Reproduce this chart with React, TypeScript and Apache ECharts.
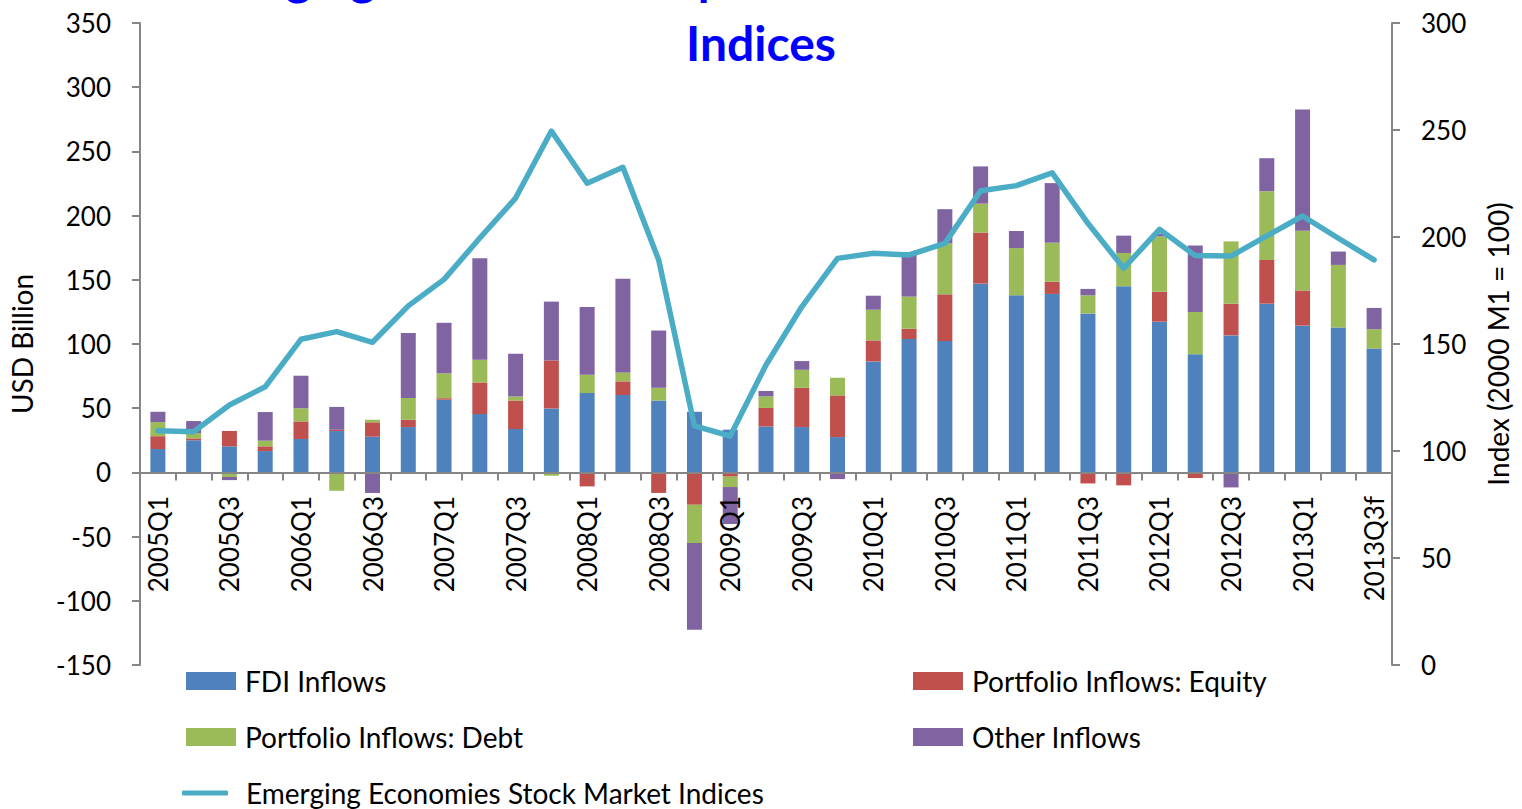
import React, { useEffect, useRef } from "react";
import * as echarts from "echarts";

const categories = [
  "2005Q1", "2005Q2", "2005Q3", "2005Q4",
  "2006Q1", "2006Q2", "2006Q3", "2006Q4",
  "2007Q1", "2007Q2", "2007Q3", "2007Q4",
  "2008Q1", "2008Q2", "2008Q3", "2008Q4",
  "2009Q1", "2009Q2", "2009Q3", "2009Q4",
  "2010Q1", "2010Q2", "2010Q3", "2010Q4",
  "2011Q1", "2011Q2", "2011Q3", "2011Q4",
  "2012Q1", "2012Q2", "2012Q3", "2012Q4",
  "2013Q1", "2013Q2", "2013Q3f",
];

const fdiInflows = [
  18.2, 25, 20.3, 16.6, 26, 32.2, 27.8, 35.3, 56.6, 45.5, 33.8, 49.8,
  61.8, 60.3, 56, 47.2, 33.3, 35.8, 35.3, 27.5, 86.4, 103.9, 102.3, 147,
  137.9, 139, 123.8, 145, 117.4, 92, 106.7, 131.4, 114.3, 112.8, 96.4,
];

const equityInflows = [
  10, 1.5, 12, 3.7, 13.7, 1, 11.2, 5.7, 1.2, 24.5, 22.2, 37.4,
  -10.9, 10.6, -16, -25.2, -3.3, 14.4, 30.6, 32.5, 16.4, 8, 36.4, 39.8,
  0, 9.5, -8.6, -10.1, 23.3, -4.4, 24.7, 34, 27.4, -1, 0,
];

const debtInflows = [
  11, 4, -3.5, 4.4, 10.3, -14.3, 2, 17, 19.4, 17.8, 3.2, -2.6,
  14.2, 7, 9.9, -29.8, -8.1, 9, 14, 13.7, 23.9, 25, 39.6, 22.5,
  36.8, 30.4, 14.1, 25.9, 43.1, 32.9, 48.5, 53.6, 46.5, 48.8, 15.1,
];

const otherInflows = [
  8, 9.5, -2.5, 22.3, 25.3, 17.8, -16, 50.5, 39.3, 78.9, 33.3, 45.8,
  52.8, 73, 44.6, -67.5, -28.8, 4.2, 6.8, -5.2, 10.9, 34.4, 26.7, 29,
  13.3, 46.4, 5, 13.5, 2.1, 51.8, -11.7, 25.7, 94.5, 10.4, 16.6,
];

const stockIndex = [
  109.5, 109, 121.5, 130, 152.2, 155.8, 150.8, 167.8, 180.2, 199.5, 218.2, 249.5,
  225.1, 232.6, 189.3, 111.7, 107, 140.2, 167.4, 190, 192.4, 191.6, 197, 221.6,
  224, 230, 206.4, 185.4, 203.6, 191.3, 191.1, 200.5, 209.8, 199.4, 189.3,
];

const FONT = "Lato, 'Open Sans', sans-serif";
const AXIS_COLOR = "#868686";

export default function App() {
  const ref = useRef<HTMLDivElement>(null);

  useEffect(() => {
    if (!ref.current) return;
    const chart = echarts.init(ref.current, undefined, { renderer: "svg" });

    const barSeries = (name: string, data: number[], color: string) => ({
      name,
      type: "bar",
      stack: "flows",
      data,
      xAxisIndex: 0,
      yAxisIndex: 0,
      barWidth: 15,
      itemStyle: { color },
    });

    const legendItem = (name: string, left: number, top: number, isLine = false) => ({
      show: true,
      data: [{ name, icon: isLine ? "roundRect" : "rect" }],
      left,
      top,
      padding: 0,
      itemWidth: isLine ? 46 : 50,
      itemHeight: isLine ? 5 : 18,
      selectedMode: false,
      textStyle: {
        fontFamily: FONT,
        fontSize: 28,
        color: "#000",
        lineHeight: 30,
        padding: [0, 0, 0, isLine ? 13 : 4],
      },
    });

    chart.setOption({
      animation: false,
      textStyle: { fontFamily: FONT },
      title: {
        text: "Emerging Economies: Capital Inflows and Stock Market\nIndices",
        left: "center",
        top: -62,
        textStyle: {
          fontFamily: FONT,
          fontSize: 48,
          fontWeight: "bold",
          color: "#0000FF",
          lineHeight: 66,
        },
      },
      legend: [
        legendItem("FDI Inflows", 186, 666),
        legendItem("Portfolio Inflows: Equity", 913, 666),
        legendItem("Portfolio Inflows: Debt", 186, 722),
        legendItem("Other Inflows", 913, 722),
        legendItem("Emerging Economies Stock Market Indices", 182, 778, true),
      ],
      grid: { left: 137, right: 130, top: 23, height: 642, containLabel: false },
      xAxis: [
        {
          type: "category",
          data: categories,
          z: 10,
          axisLine: { onZero: true, onZeroAxisIndex: 0, lineStyle: { color: AXIS_COLOR, width: 2 } },
          axisTick: { show: true, interval: 0, length: 8, lineStyle: { color: AXIS_COLOR, width: 2 } },
          axisLabel: { show: false },
          splitLine: { show: false },
        },
        {
          type: "category",
          data: categories,
          position: "bottom",
          offset: -193,
          z: 10,
          axisLine: { show: false, onZero: false },
          axisTick: { show: false },
          axisLabel: {
            interval: 1,
            rotate: 90,
            margin: 24,
            fontSize: 26,
            color: "#000",
            fontFamily: FONT,
          },
          splitLine: { show: false },
        },
      ],
      yAxis: [
        {
          type: "value",
          min: -150,
          max: 350,
          interval: 50,
          name: "USD Billion",
          nameLocation: "middle",
          nameRotate: 90,
          nameGap: 104,
          nameTextStyle: { fontSize: 28, color: "#000", fontFamily: FONT },
          axisLine: { show: true, lineStyle: { color: AXIS_COLOR, width: 2 } },
          axisTick: { show: true, length: 8, lineStyle: { color: AXIS_COLOR, width: 2 } },
          axisLabel: { margin: 29, fontSize: 26, color: "#000", fontFamily: FONT },
          splitLine: { show: false },
        },
        {
          type: "value",
          min: 0,
          max: 300,
          interval: 50,
          position: "right",
          name: "Index (2000 M1 = 100)",
          nameLocation: "middle",
          nameRotate: 90,
          nameGap: 92,
          nameTextStyle: { fontSize: 28, color: "#000", fontFamily: FONT },
          axisLine: { show: true, lineStyle: { color: AXIS_COLOR, width: 2 } },
          axisTick: { show: true, length: 8, lineStyle: { color: AXIS_COLOR, width: 2 } },
          axisLabel: { margin: 29, fontSize: 26, color: "#000", fontFamily: FONT },
          splitLine: { show: false },
        },
      ],
      series: [
        barSeries("FDI Inflows", fdiInflows, "#4F81BD"),
        barSeries("Portfolio Inflows: Equity", equityInflows, "#C0504D"),
        barSeries("Portfolio Inflows: Debt", debtInflows, "#9BBB59"),
        barSeries("Other Inflows", otherInflows, "#8064A2"),
        {
          name: "Emerging Economies Stock Market Indices",
          type: "line",
          xAxisIndex: 0,
          yAxisIndex: 1,
          data: stockIndex,
          symbol: "none",
          showSymbol: false,
          z: 5,
          lineStyle: { color: "#4BACC6", width: 5.5, cap: "round", join: "round" },
          itemStyle: { color: "#4BACC6" },
        },
      ],
    });

    return () => chart.dispose();
  }, []);

  return (
    <div
      ref={ref}
      style={{ position: "fixed", left: 0, top: 0, width: 1522, height: 809, background: "#fff" }}
    />
  );
}
